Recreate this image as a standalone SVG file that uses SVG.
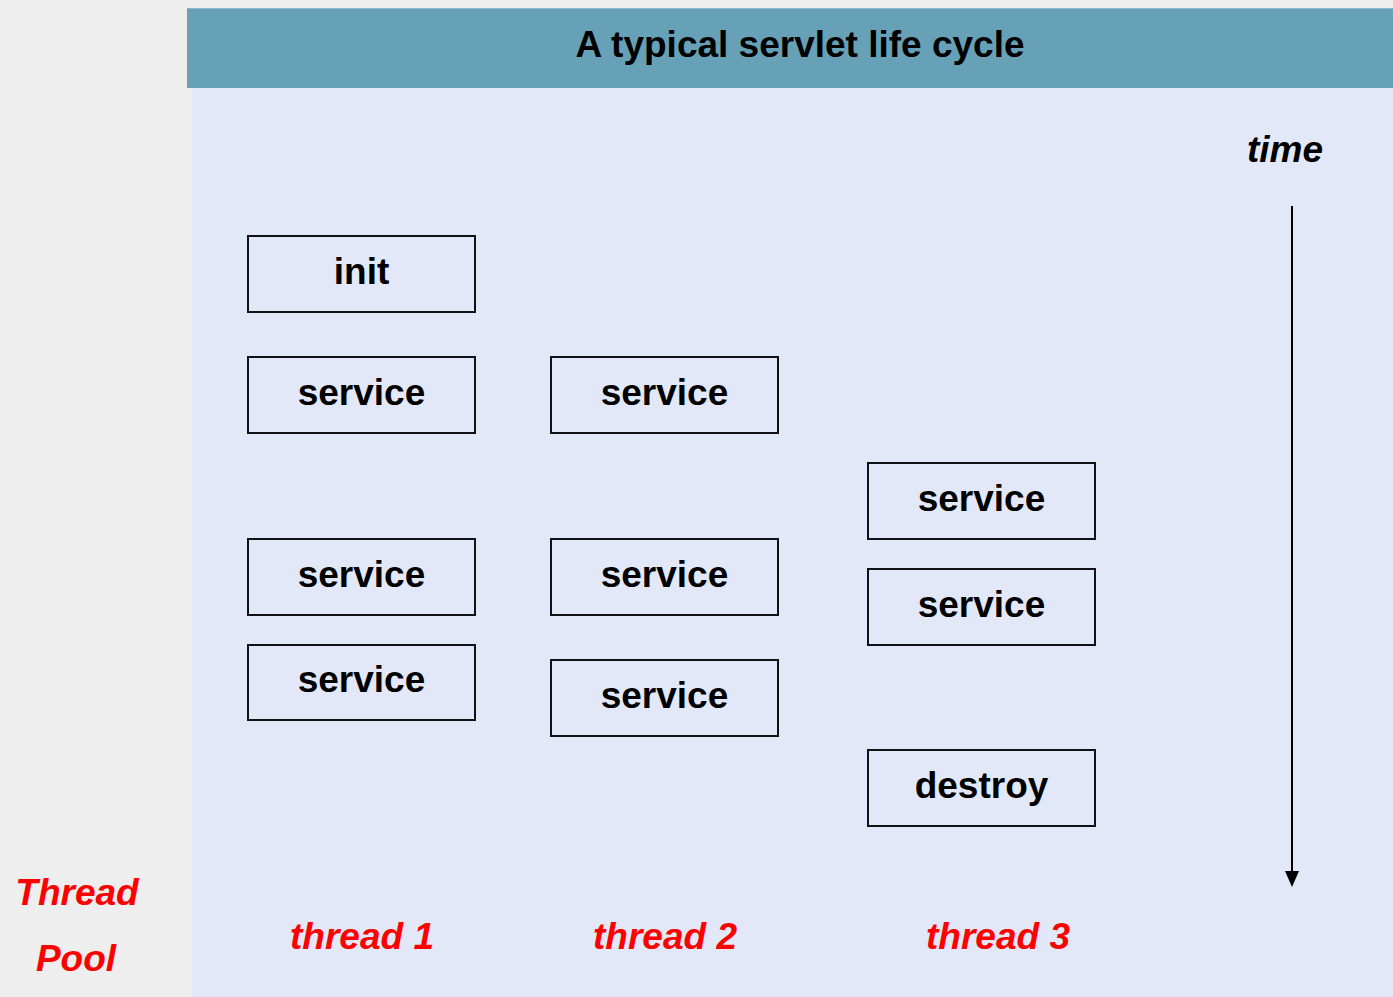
<svg xmlns="http://www.w3.org/2000/svg" width="1393" height="997" viewBox="0 0 1393 997">
<style>
.box{fill:none;stroke:#111;stroke-width:2}
.lbl{font-family:"Liberation Sans",Arial,sans-serif;font-weight:bold;font-size:37px;fill:#000;text-anchor:middle}
.red{font-family:"Liberation Sans",Arial,sans-serif;font-weight:bold;font-style:italic;font-size:37px;fill:#ff0000;text-anchor:middle}
</style>
<rect x="0" y="0" width="1393" height="997" fill="#eeeeee"/>
<rect x="192" y="88" width="1201" height="909" fill="#e2e8f8"/>
<g id="header">
<rect x="187" y="8" width="1206" height="80" fill="#66a1b7"/>
<line x1="187" y1="8.5" x2="1393" y2="8.5" stroke="#8bb7c8" stroke-width="1"/>
<text x="800" y="57" class="lbl">A typical servlet life cycle</text>
</g>
<g id="connectors">
<line x1="1292" y1="206" x2="1292" y2="872" stroke="#000" stroke-width="2"/>
<path d="M1285,871 L1299,871 L1292,887 Z" fill="#000"/>
</g>
<g id="time"><text x="1285" y="162" class="lbl" style="font-style:italic">time</text></g>
<g id="init"><rect x="248" y="236" width="227" height="76" class="box"/><text x="361.5" y="284" class="lbl">init</text></g>
<g id="t1s1"><rect x="248" y="357" width="227" height="76" class="box"/><text x="361.5" y="405" class="lbl">service</text></g>
<g id="t1s2"><rect x="248" y="539" width="227" height="76" class="box"/><text x="361.5" y="587" class="lbl">service</text></g>
<g id="t1s3"><rect x="248" y="645" width="227" height="75" class="box"/><text x="361.5" y="692" class="lbl">service</text></g>
<g id="t2s1"><rect x="551" y="357" width="227" height="76" class="box"/><text x="664.5" y="405" class="lbl">service</text></g>
<g id="t2s2"><rect x="551" y="539" width="227" height="76" class="box"/><text x="664.5" y="587" class="lbl">service</text></g>
<g id="t2s3"><rect x="551" y="660" width="227" height="76" class="box"/><text x="664.5" y="708" class="lbl">service</text></g>
<g id="t3s1"><rect x="868" y="463" width="227" height="76" class="box"/><text x="981.5" y="511" class="lbl">service</text></g>
<g id="t3s2"><rect x="868" y="569" width="227" height="76" class="box"/><text x="981.5" y="617" class="lbl">service</text></g>
<g id="destroy"><rect x="868" y="750" width="227" height="76" class="box"/><text x="981.5" y="798" class="lbl">destroy</text></g>
<g id="thread1"><text x="362" y="949" class="red">thread 1</text></g>
<g id="thread2"><text x="665" y="949" class="red">thread 2</text></g>
<g id="thread3"><text x="998" y="949" class="red">thread 3</text></g>
<g id="pool"><text x="77" y="905" class="red">Thread</text><text x="76" y="971" class="red">Pool</text></g>
</svg>
